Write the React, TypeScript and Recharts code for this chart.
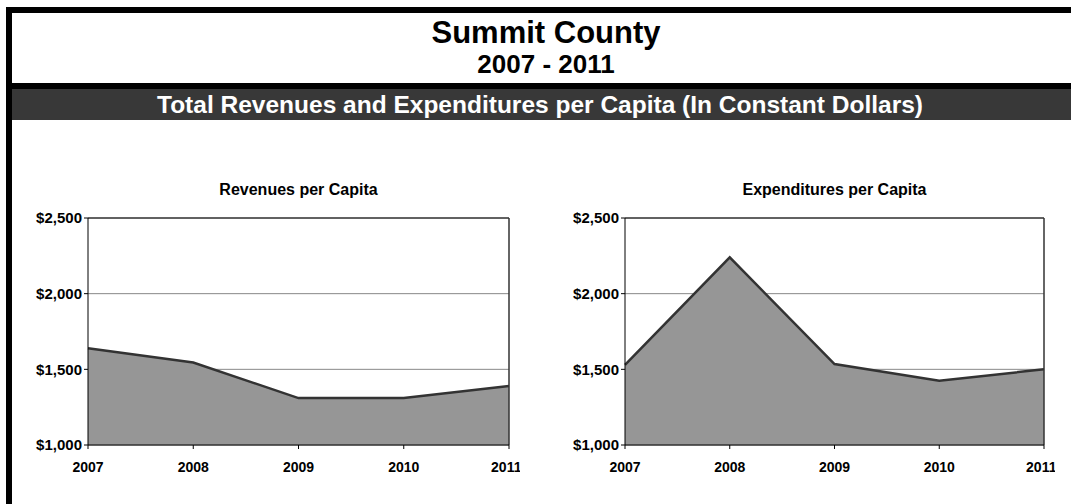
import React from 'react';
import {
    AreaChart,
    Area,
    XAxis,
    YAxis,
    CartesianGrid,
    ReferenceLine
} from 'recharts';

const years = ['2007', '2008', '2009', '2010', '2011'];
const revenues = [1640, 1545, 1310, 1310, 1390];
const expenditures = [1530, 2240, 1535, 1425, 1500];
const yTicks = [1000, 1500, 2000, 2500];

const FONT = '"Liberation Sans", Arial, sans-serif';

const revenueData = years.map((year, i) => ({ year, value: revenues[i] }));
const expenditureData = years.map((year, i) => ({ year, value: expenditures[i] }));

const money = (v: number) => '$' + v.toLocaleString('en-US');

interface PanelProps {
    title: string;
    data: { year: string; value: number }[];
    left: number;
    width: number;
}

const Panel: React.FC<PanelProps> = ({ title, data, left, width }) => {
    const plotLeft = left + 68;
    const plotWidth = width - 68 - 11;
    return (
        <>
            <div
                style={{
                    position: 'absolute',
                    left: plotLeft,
                    top: 181,
                    width: plotWidth,
                    textAlign: 'center',
                    fontSize: 16,
                    fontWeight: 'bold',
                    lineHeight: '18px'
                }}
            >
                {title}
            </div>
            <div style={{ position: 'absolute', left, top: 200 }}>
                <AreaChart
                    width={width}
                    height={290}
                    data={data}
                    margin={{ top: 18, right: 11, left: 0, bottom: 0 }}
                >
                    <CartesianGrid horizontal vertical={false} stroke="#888888" />
                    <XAxis
                        dataKey="year"
                        height={45}
                        stroke="#000"
                        tickSize={4}
                        tickMargin={13}
                        tick={{ fill: '#000', fontSize: 14, fontWeight: 'bold', fontFamily: FONT }}
                    />
                    <YAxis
                        width={68}
                        domain={[1000, 2500]}
                        ticks={yTicks}
                        tickFormatter={money}
                        stroke="#000"
                        tickSize={4}
                        tickMargin={2}
                        tick={{ fill: '#000', fontSize: 15, fontWeight: 'bold', fontFamily: FONT }}
                    />
                    <Area
                        type="linear"
                        dataKey="value"
                        baseValue="dataMin"
                        stroke="#333333"
                        strokeWidth={2.5}
                        fill="#969696"
                        fillOpacity={1}
                        isAnimationActive={false}
                    />
                    <ReferenceLine y={2500} stroke="#000" />
                    <ReferenceLine x="2011" stroke="#333" strokeWidth={1.5} />
                </AreaChart>
            </div>
        </>
    );
};

export default function App() {
    return (
        <div
            style={{
                position: 'fixed',
                left: 0,
                top: 0,
                width: 1071,
                height: 504,
                overflow: 'hidden',
                background: '#fff',
                fontFamily: FONT,
                color: '#000'
            }}
        >
            {/* frame: only top and left edges are visible, the rest is cut off */}
            <div style={{ position: 'absolute', left: 6, top: 7, width: 1065, height: 6, background: '#000' }} />
            <div style={{ position: 'absolute', left: 6, top: 7, width: 6, height: 497, background: '#000' }} />
            <div style={{ position: 'absolute', left: 12, top: 83, width: 1059, height: 6, background: '#000' }} />
            <div style={{ position: 'absolute', left: 12, top: 89, width: 1059, height: 31, background: '#383838' }} />
            <div
                style={{
                    position: 'absolute',
                    left: 0,
                    top: 17,
                    width: 1092,
                    textAlign: 'center',
                    fontSize: 31,
                    fontWeight: 'bold',
                    lineHeight: '31px'
                }}
            >
                Summit County
            </div>
            <div
                style={{
                    position: 'absolute',
                    left: 0,
                    top: 51,
                    width: 1092,
                    textAlign: 'center',
                    fontSize: 26,
                    fontWeight: 'bold',
                    lineHeight: '26px'
                }}
            >
                2007 - 2011
            </div>
            <div
                style={{
                    position: 'absolute',
                    left: 0,
                    top: 92,
                    width: 1080,
                    textAlign: 'center',
                    fontSize: 24.5,
                    fontWeight: 'bold',
                    lineHeight: '26px',
                    color: '#fff'
                }}
            >
                Total Revenues and Expenditures per Capita (In Constant Dollars)
            </div>
            <Panel title="Revenues per Capita" data={revenueData} left={20} width={500} />
            <Panel title="Expenditures per Capita" data={expenditureData} left={557} width={498} />
        </div>
    );
}
